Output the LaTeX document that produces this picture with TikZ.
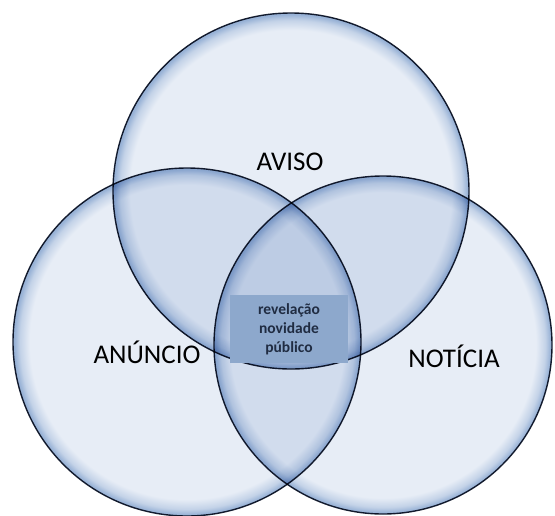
\documentclass[tikz,border=0pt]{standalone}
\usepackage{fontspec}
\setmainfont{Carlito}
\usetikzlibrary{positioning}
\definecolor{bubblein}{RGB}{231,237,246}
\definecolor{bubbleout}{RGB}{152,178,214}
\definecolor{bubbleedge}{RGB}{24,32,50}
\definecolor{boxfill}{RGB}{141,168,204}
\definecolor{boxtext}{RGB}{32,44,66}
\pgfdeclareradialshading{bubble}{\pgfpoint{0bp}{0bp}}{%
  color(0bp)=(bubblein); color(22.6bp)=(bubblein);
  color(24bp)=(bubbleout!45!bubblein); color(24.8bp)=(bubbleout);
  color(25bp)=(bubbleout); color(50bp)=(bubbleout)}

\begin{document}
\begin{tikzpicture}[x=1pt,y=-1pt,
    bubble/.style={circle, inner sep=0pt, shading=bubble, draw=bubbleedge, line width=1.4pt},
    setname/.style={anchor=base, text=black, font=\fontsize{27}{30}\selectfont},
    common/.style={fill=boxfill, text=boxtext, align=center, inner sep=0pt,
      minimum width=118pt, minimum height=68pt,
      font=\bfseries\fontsize{15.5}{19}\selectfont}]
  \useasboundingbox (0,0) rectangle (555,515);
  \fill[white] (0,0) rectangle (555,515);

  % the three sets
  \begin{scope}[blend mode=multiply]
    \node[bubble, minimum size=356pt] (aviso) at (291,191) {};
    \node[bubble, minimum size=348pt] (anuncio) at (187,342) {};
    \node[bubble, minimum size=338pt] (noticia) at (383,345) {};
  \end{scope}

  \node[setname] (avisolbl) at (290,170) {AVISO};
  \node[setname] (anunciolbl) at (147,363) {ANÚNCIO};
  \node[setname] (noticialbl) at (454,367) {NOTÍCIA};

  % what the three share
  \node[common] (shared) at (289,329) {revelação\\novidade\\público};
\end{tikzpicture}
\end{document}
